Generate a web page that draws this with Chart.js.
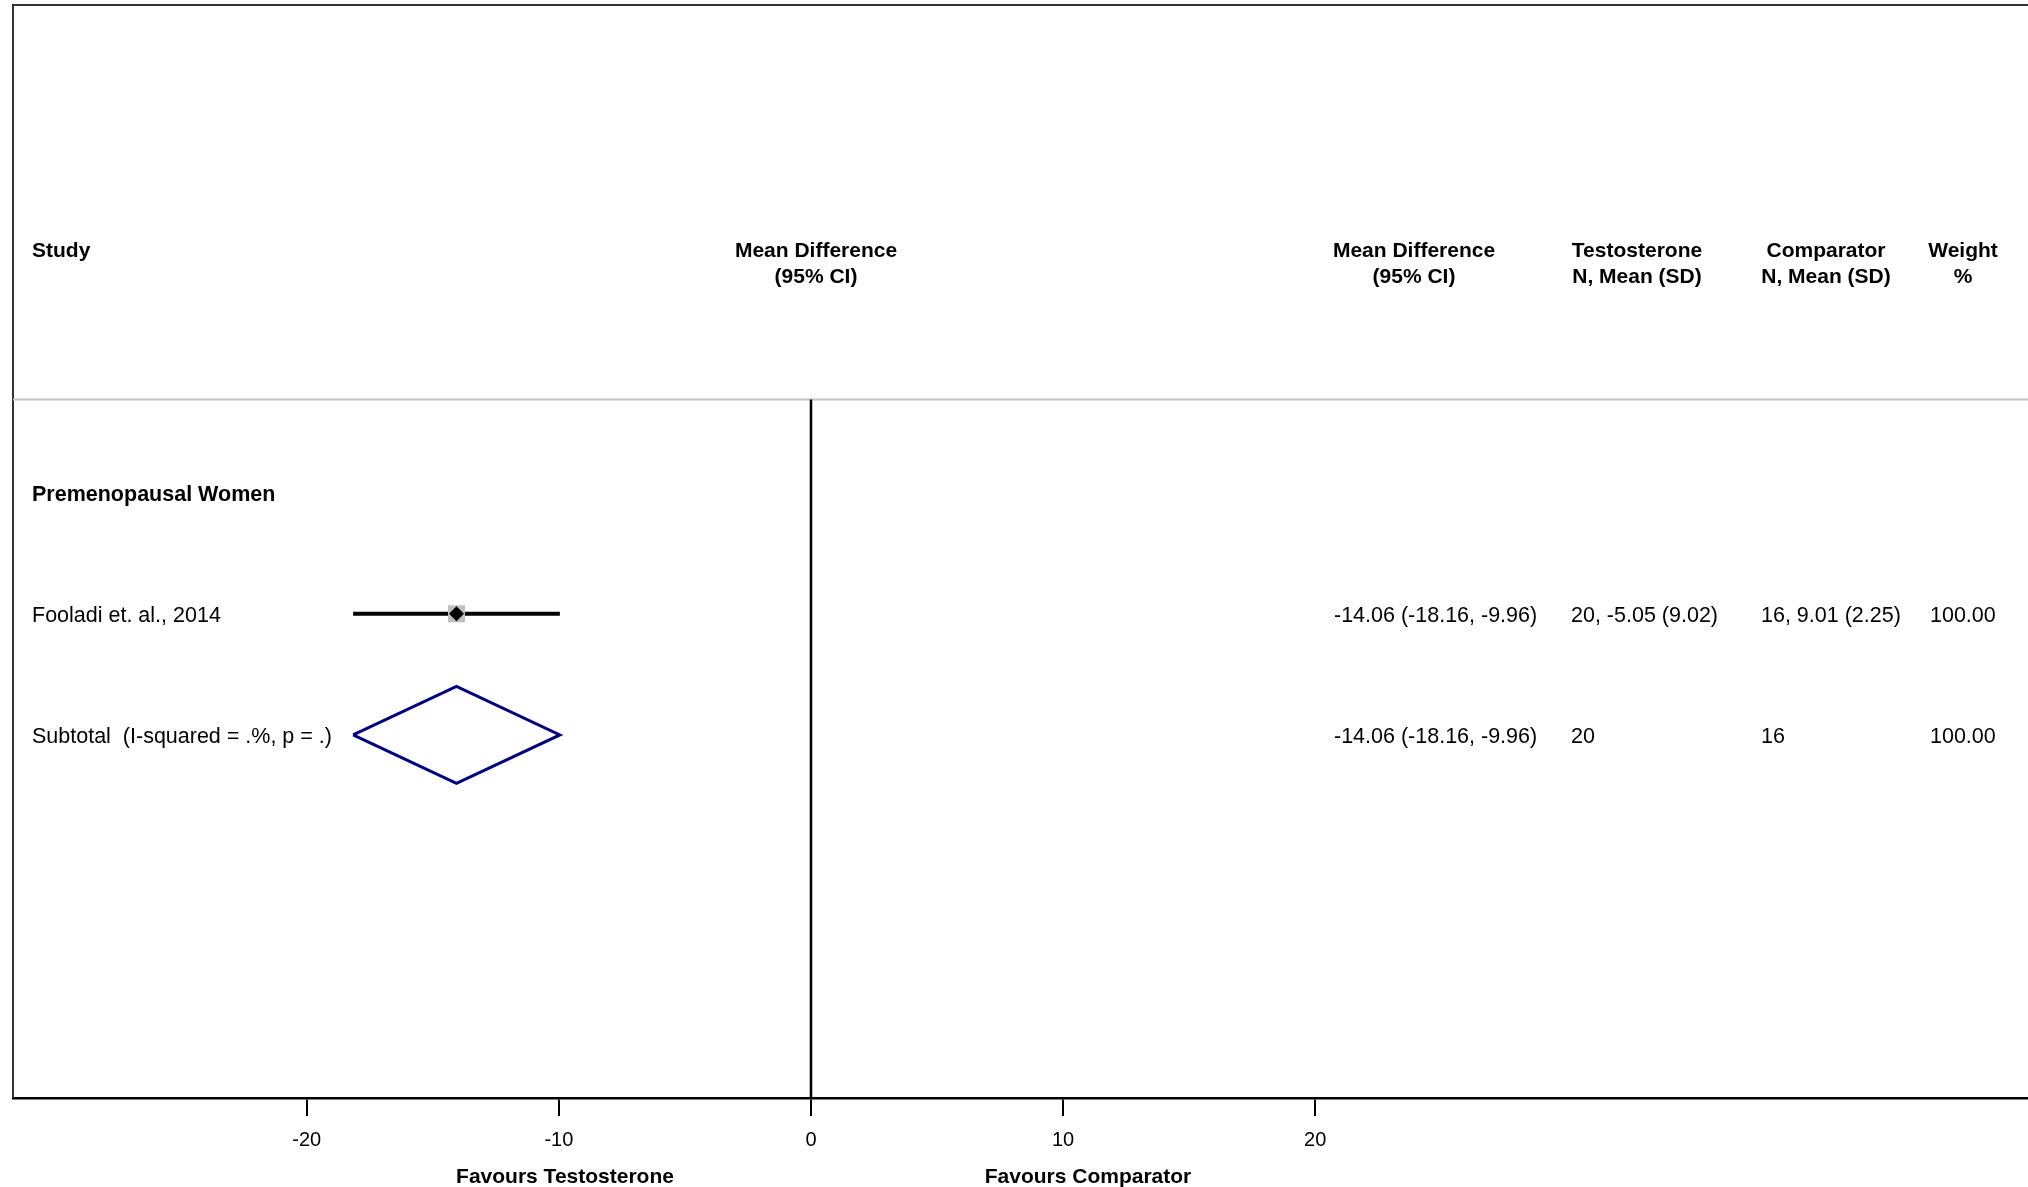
<!DOCTYPE html>
<html>
<head>
<meta charset="utf-8">
<script src="https://cdn.jsdelivr.net/npm/chart.js@4/dist/chart.umd.min.js"></script>
<style>
  html, body { margin: 0; padding: 0; background: #fff; }
  #wrap { width: 2028px; height: 1187px; position: relative; }
</style>
</head>
<body>
<div id="wrap"><canvas id="forest"></canvas></div>
<script>
// Data
const groupLabel = 'Premenopausal Women';
const studyLabels = ['Fooladi et. al., 2014'];
const studyMD = [-14.06];
const studyLow = [-18.16];
const studyHigh = [-9.96];
const studyTestosterone = ['20, -5.05 (9.02)'];
const studyComparator = ['16, 9.01 (2.25)'];
const studyWeight = ['100.00'];

const subtotalLabel = 'Subtotal  (I-squared = .%, p = .)';
const subtotalMD = -14.06;
const subtotalLow = -18.16;
const subtotalHigh = -9.96;
const subtotalTestosterone = '20';
const subtotalComparator = '16';
const subtotalWeight = '100.00';

const xTicks = [-20, -10, 0, 10, 20];
const favoursLeft = 'Favours Testosterone';
const favoursRight = 'Favours Comparator';

// Layout (rows on the y scale, pixel columns for the text table)
const FONT = '"Liberation Sans", Arial, Helvetica, sans-serif';
const X_MIN = -31.65, X_MAX = 48.27;
const Y_MIN = -0.03, Y_MAX = 9;
const HEAD1 = 2.0, HEAD2 = 2.22, SEP = 3.23;
const GROUP_ROW = 4, FIRST_STUDY_ROW = 5;
const SUB_ROW = FIRST_STUDY_ROW + studyLabels.length;
const DIAMOND_H = 0.4;
const ROW_TEXT_NUDGE = 2;

const fmt = v => v.toFixed(2);
const ciText = (m, lo, hi) => `${fmt(m)} (${fmt(lo)}, ${fmt(hi)})`;

const datasets = [];
const line = (pts, color, width, order) => ({
    data: pts, showLine: true, borderColor: color, borderWidth: width,
    pointRadius: 0, fill: false, clip: false, order: order
});

datasets.push(line([{x: X_MIN, y: SEP}, {x: X_MAX, y: SEP}], '#c4c4c4', 2, 10));
datasets.push(line([{x: 0, y: SEP}, {x: 0, y: Y_MAX}], '#000', 2.5, 9));

studyLabels.forEach((s, i) => {
    const r = FIRST_STUDY_ROW + i;
    datasets.push(line([{x: studyLow[i], y: r}, {x: studyHigh[i], y: r}], '#000', 4, 5));
});

datasets.push({
    data: studyMD.map((m, i) => ({x: m, y: FIRST_STUDY_ROW + i})),
    pointStyle: 'rect', pointRadius: 12, pointBackgroundColor: '#bfbfbf',
    pointBorderWidth: 0, showLine: false, clip: false, order: 2
});
datasets.push({
    data: studyMD.map((m, i) => ({x: m, y: FIRST_STUDY_ROW + i})),
    pointStyle: 'rectRot', pointRadius: 7.5, pointBackgroundColor: '#000',
    pointBorderWidth: 0, showLine: false, clip: false, order: 1
});

datasets.push(line([
    {x: subtotalLow, y: SUB_ROW},
    {x: subtotalMD, y: SUB_ROW - DIAMOND_H},
    {x: subtotalHigh, y: SUB_ROW},
    {x: subtotalMD, y: SUB_ROW + DIAMOND_H},
    {x: subtotalLow, y: SUB_ROW}
], '#000080', 3, 0));

// Frame: top and left border
const framePlugin = {
    id: 'frame',
    beforeDatasetsDraw(chart) {
        const {ctx, chartArea: a} = chart;
        ctx.save();
        ctx.strokeStyle = '#333';
        ctx.lineWidth = 2;
        ctx.beginPath();
        ctx.moveTo(a.left, a.bottom);
        ctx.lineTo(a.left, a.top);
        ctx.lineTo(a.right, a.top);
        ctx.stroke();
        ctx.restore();
    }
};

// Table text
const columns = [
    {head: ['Mean Difference', '(95% CI)'], center: 1414, left: 1334,
     rows: studyMD.map((m, i) => ciText(m, studyLow[i], studyHigh[i])), sub: ciText(subtotalMD, subtotalLow, subtotalHigh)},
    {head: ['Testosterone', 'N, Mean (SD)'], center: 1637, left: 1571, rows: studyTestosterone, sub: subtotalTestosterone},
    {head: ['Comparator', 'N, Mean (SD)'], center: 1826, left: 1761, rows: studyComparator, sub: subtotalComparator},
    {head: ['Weight', '%'], center: 1963, left: 1930, rows: studyWeight, sub: subtotalWeight}
];

const textPlugin = {
    id: 'tableText',
    afterDraw(chart) {
        const {ctx, chartArea: a} = chart;
        const y = chart.scales.y;
        const rowY = v => y.getPixelForValue(v) + ROW_TEXT_NUDGE;
        const head = `bold 21px ${FONT}`, bold = `bold 21.5px ${FONT}`, plain = `21.5px ${FONT}`;
        ctx.save();
        ctx.fillStyle = '#000';
        ctx.textBaseline = 'middle';

        const put = (txt, x, py, font, align) => {
            ctx.font = font; ctx.textAlign = align; ctx.fillText(txt, x, py);
        };

        put('Study', 32, y.getPixelForValue(HEAD1), head, 'left');
        put('Mean Difference', 816, y.getPixelForValue(HEAD1), head, 'center');
        put('(95% CI)', 816, y.getPixelForValue(HEAD2), head, 'center');
        columns.forEach(c => {
            put(c.head[0], c.center, y.getPixelForValue(HEAD1), head, 'center');
            put(c.head[1], c.center, y.getPixelForValue(HEAD2), head, 'center');
        });

        put(groupLabel, 32, rowY(GROUP_ROW), bold, 'left');
        studyLabels.forEach((s, i) => {
            const py = rowY(FIRST_STUDY_ROW + i);
            put(s, 32, py, plain, 'left');
            columns.forEach(c => put(c.rows[i], c.left, py, plain, 'left'));
        });
        const sy = rowY(SUB_ROW);
        put(subtotalLabel, 32, sy, plain, 'left');
        columns.forEach(c => put(c.sub, c.left, sy, plain, 'left'));

        put(favoursLeft, 565, a.bottom + 79, head, 'center');
        put(favoursRight, 1088, a.bottom + 79, head, 'center');
        ctx.restore();
    }
};

new Chart(document.getElementById('forest'), {
    type: 'scatter',
    data: { datasets: datasets },
    options: {
        responsive: true,
        maintainAspectRatio: false,
        animation: false,
        layout: { autoPadding: false, padding: { left: 13, top: 5, right: 0, bottom: 0 } },
        plugins: { legend: { display: false }, tooltip: { enabled: false } },
        scales: {
            x: {
                type: 'linear', position: 'bottom', min: X_MIN, max: X_MAX,
                afterBuildTicks: s => { s.ticks = xTicks.map(v => ({value: v})); },
                afterFit: s => { s.height = 89; },
                border: { display: true, color: '#000', width: 2.5 },
                grid: { drawOnChartArea: false, drawTicks: true, tickLength: 18, color: '#000', lineWidth: 2 },
                ticks: { color: '#000', font: { family: FONT, size: 20 }, padding: 12,
                         maxRotation: 0, autoSkip: false, callback: v => String(v) }
            },
            y: { display: false, reverse: true, min: Y_MIN, max: Y_MAX }
        }
    },
    plugins: [framePlugin, textPlugin]
});
</script>
</body>
</html>
